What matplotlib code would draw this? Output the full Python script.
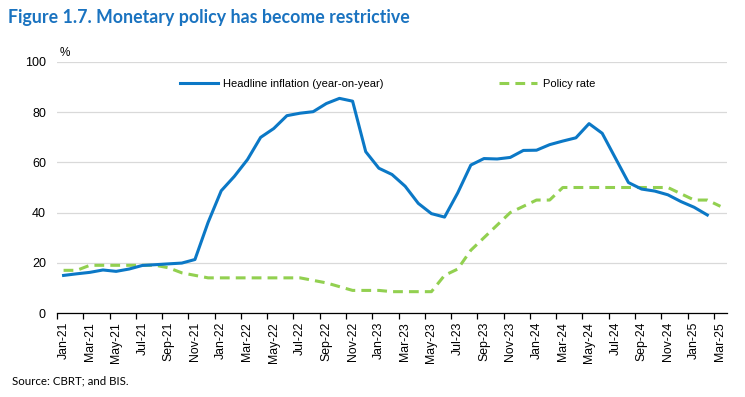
import matplotlib
matplotlib.use("Agg")
import matplotlib.pyplot as plt
import numpy as np

months = ["Jan", "Feb", "Mar", "Apr", "May", "Jun", "Jul", "Aug", "Sep", "Oct", "Nov", "Dec"]
categories = [f"{m}-{y}" for y in ["21", "22", "23", "24"] for m in months] + ["Jan-25", "Feb-25", "Mar-25"]

inflation = [14.97, 15.61, 16.19, 17.14, 16.59, 17.53, 18.95, 19.25, 19.58, 19.89, 21.31, 36.08,
             48.69, 54.44, 61.14, 69.97, 73.50, 78.62, 79.60, 80.21, 83.45, 85.51, 84.39, 64.27,
             57.68, 55.18, 50.51, 43.68, 39.59, 38.21, 47.83, 58.94, 61.53, 61.36, 61.98, 64.77,
             64.86, 67.07, 68.50, 69.80, 75.45, 71.60, 61.78, 51.97, 49.38, 48.58, 47.09, 44.38,
             42.12, 39.05]

policy_rate = [17, 17, 19, 19, 19, 19, 19, 19, 18, 16, 15, 14,
               14, 14, 14, 14, 14, 14, 14, 13, 12, 10.5, 9, 9,
               9, 8.5, 8.5, 8.5, 8.5, 15, 17.5, 25, 30, 35, 40, 42.5,
               45, 45, 50, 50, 50, 50, 50, 50, 50, 50, 50, 47.5,
               45, 45, 42.5]

yticks = [0, 20, 40, 60, 80, 100]

blue = "#0B78C6"
green = "#92D050"
narrow = ["Liberation Sans Narrow", "Liberation Sans"]

fig = plt.figure(figsize=(7.45, 3.97), dpi=100)
ax = fig.add_axes([57/745, 1 - 313/397, 670/745, 251/397])

n = len(categories)
x_inf = np.arange(len(inflation))
x_pol = np.arange(len(policy_rate))
l1, = ax.plot(x_inf, inflation, color=blue, lw=2.2, solid_joinstyle="round", zorder=3)
l2, = ax.plot(x_pol, policy_rate, color=green, lw=2.2, dashes=(3.2, 2.0), zorder=2)

ax.set_xlim(-0.5, n - 0.5)
ax.set_ylim(0, 100)
ax.set_yticks(yticks)
ax.set_yticklabels([str(v) for v in yticks], fontfamily=narrow, fontsize=9)
ax.tick_params(axis="y", length=0, pad=8)
ax.grid(axis="y", color="#d9d9d9", lw=0.9)
ax.set_axisbelow(True)

for s in ["left", "right", "top"]:
    ax.spines[s].set_visible(False)
ax.spines["bottom"].set_color("black")
ax.spines["bottom"].set_linewidth(0.9)

ax.set_xticks(np.arange(-0.5, n - 0.5, 2))
ax.set_xticklabels([])
ax.tick_params(axis="x", length=4, width=0.9, direction="out", color="black")
for i in range(0, n, 2):
    ax.text(i, -3.5, categories[i], rotation=90, ha="center", va="top",
            fontfamily=narrow, fontsize=8.8)

ax.text(-0.3, 101, "%", ha="left", va="bottom", fontfamily=narrow, fontsize=8.5)

ax.legend([l1, l2], ["Headline inflation (year-on-year)", "Policy rate"], ncol=2,
          frameon=False, loc="center left", bbox_to_anchor=(180/745, 1 - 84/397),
          bbox_transform=fig.transFigure, handlelength=3.4, handletextpad=0.5,
          columnspacing=10.4, prop={"family": narrow, "size": 8},
          borderpad=0, borderaxespad=0)

fig.text(8/745, 1 - 18/397, "Figure 1.7. Monetary policy has become restrictive",
         fontfamily="Lato", fontweight="bold", fontsize=12.8, color="#1A73C0",
         ha="left", va="center")
fig.text(12/745, 1 - 381/397, "Source: CBRT; and BIS.", fontfamily="Lato",
         fontsize=8.3, color="black", ha="left", va="center")

fig.savefig("out.png", dpi=100)
